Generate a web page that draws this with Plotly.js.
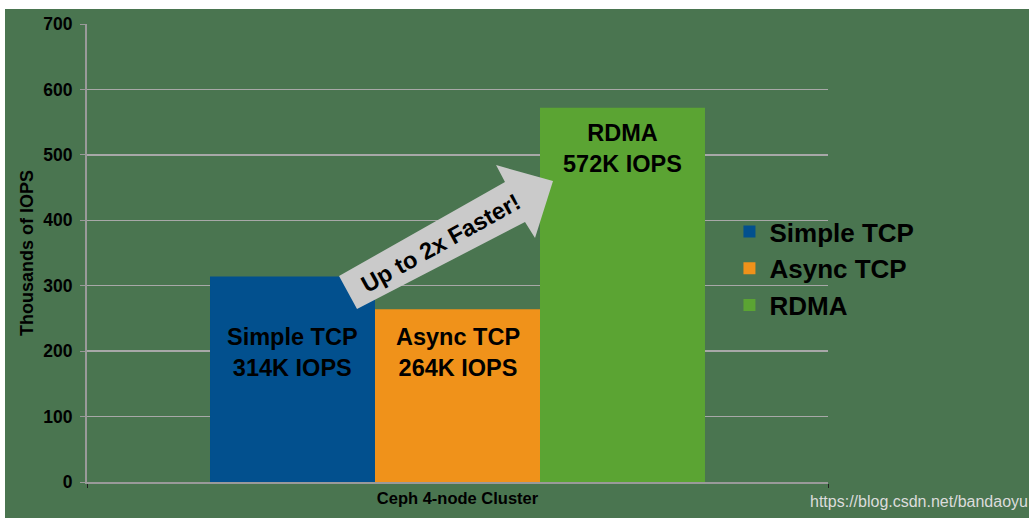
<!DOCTYPE html>
<html>
<head>
<meta charset="utf-8">
<script src="https://cdn.plot.ly/plotly-3.0.1.min.js"></script>
<style>
  html, body { margin: 0; padding: 0; background: #ffffff; }
  #chart { position: absolute; left: 5px; top: 9px; width: 1024px; height: 509px; }
</style>
</head>
<body>
<div id="chart"></div>
<script>
// ---- data ----
const category = ["Ceph 4-node Cluster"];
const seriesNames = ["Simple TCP", "Async TCP", "RDMA"];
const seriesValues = [314, 264, 572];   // thousands of IOPS
const seriesColors = ["#02508e", "#f0921a", "#5ba433"];
const yTickValues = [0, 100, 200, 300, 400, 500, 600, 700];
const arrowText = "Up to 2x Faster!";
const watermark = "https://blog.csdn.net/bandaoyu";

const FONT = "'Liberation Sans', Arial, sans-serif";

const traces = seriesNames.map((name, i) => ({
  type: "bar",
  name: name,
  x: category,
  y: [seriesValues[i]],
  marker: { color: seriesColors[i], line: { width: 0 } },
  hoverinfo: "name+y"
}));

// bar positions inside the single category group
const bargap = 0.332;
const barW = (1 - bargap) / seriesNames.length;
const labelY = [198, 198, 509];
const barLabels = seriesNames.map((name, i) => ({
  xref: "x", yref: "y",
  x: -((1 - bargap) / 2) + barW * (i + 0.5),
  y: labelY[i],
  text: "<b>" + name + "<br>" + seriesValues[i] + "K IOPS</b>",
  showarrow: false,
  font: { family: FONT, size: 23.5, color: "#000000" },
  xanchor: "center", yanchor: "middle"
}));

const layout = {
  width: 1024, height: 509,
  margin: { l: 82, r: 201, t: 15, b: 36, pad: 0 },
  paper_bgcolor: "#4a7550",
  plot_bgcolor: "#4a7550",
  barmode: "group",
  bargap: bargap,
  bargroupgap: 0,
  showlegend: true,
  legend: {
    x: 0.867, xanchor: "left",
    y: 0.466, yanchor: "middle",
    bgcolor: "rgba(0,0,0,0)",
    font: { family: FONT, size: 26, color: "#000000", weight: "bold" },
    itemclick: false, itemdoubleclick: false,
    tracegroupgap: 0
  },
  xaxis: {
    type: "category",
    range: [-0.5, 0.5],
    showgrid: false,
    showline: true, linecolor: "#9a9a9a", linewidth: 2,
    ticks: "outside", tickson: "boundaries", ticklen: 4, tickcolor: "#222",
    tickfont: { family: FONT, size: 16.5, color: "#000000", weight: "bold" },
    fixedrange: true
  },
  yaxis: {
    range: [0, 700],
    tickvals: yTickValues,
    ticktext: yTickValues.map(String),
    showgrid: true, gridcolor: "#a8a8a8", gridwidth: 1.5,
    zeroline: false,
    showline: true, linecolor: "#9a9a9a", linewidth: 2,
    ticks: "outside", ticklen: 5, tickcolor: "#9a9a9a",
    ticklabelstandoff: 4,
    tickfont: { family: FONT, size: 17.5, color: "#000000", weight: "bold" },
    title: { text: "<b>Thousands of IOPS</b>", standoff: 5,
             font: { family: FONT, size: 18, color: "#000000" } },
    fixedrange: true
  },
  shapes: [{
    type: "path", xref: "paper", yref: "paper",
    path: "M 0.3401 0.4498 L 0.5641 0.6550 L 0.5520 0.6921 L 0.6289 0.6572 L 0.6046 0.5328 L 0.5911 0.5677 L 0.3644 0.3777 Z",
    fillcolor: "#cacaca", line: { width: 0 }, layer: "above"
  }],
  annotations: barLabels.concat([
    {
      xref: "paper", yref: "paper", x: 0.4777, y: 0.5218,
      text: "<b>" + arrowText + "</b>", textangle: -29, showarrow: false,
      font: { family: FONT, size: 23.5, color: "#000000" },
      xanchor: "center", yanchor: "middle"
    },
    {
      xref: "paper", yref: "paper", x: 1.2726, y: -0.042,
      text: watermark, showarrow: false,
      font: { family: FONT, size: 16, color: "#dcdcdc" },
      xanchor: "right", yanchor: "middle"
    }
  ])
};

Plotly.newPlot("chart", traces, layout, { displayModeBar: false, staticPlot: true });
</script>
</body>
</html>
